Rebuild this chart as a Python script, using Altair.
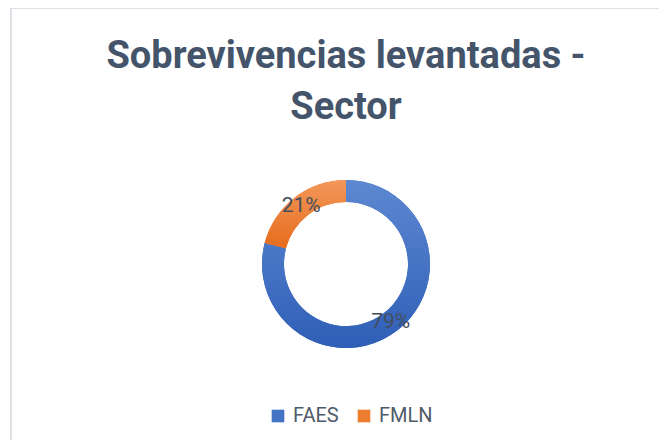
import altair as alt
import pandas as pd

sectors = ["FAES", "FMLN"]
values = [79, 21]
labels = ["79%", "21%"]
solid_colors = ["#4472C4", "#ED7D31"]
title_lines = ["Sobrevivencias levantadas -", "Sector"]

df = pd.DataFrame({"sector": sectors, "value": values, "label": labels})
one = pd.DataFrame({"k": [0]})

W, H = 648, 432
CX, CY = 335, 256

blue_grad = alt.LinearGradient(
    gradient="linear", x1=0, y1=0, x2=0, y2=1,
    stops=[alt.GradientStop(offset=0, color="#5D88D1"),
           alt.GradientStop(offset=1, color="#2F5EB7")],
)
orange_grad = alt.LinearGradient(
    gradient="linear", x1=0, y1=0, x2=0, y2=1,
    stops=[alt.GradientStop(offset=0, color="#F3975A"),
           alt.GradientStop(offset=1, color="#E66C1C")],
)

theta = alt.Theta("value:Q", stack=True)

base_arc = alt.Chart(df).mark_arc(outerRadius=84, innerRadius=62).encode(
    theta=theta,
    order=alt.Order("sector:N"),
    x=alt.value(CX), y=alt.value(CY),
    color=alt.Color(
        "sector:N",
        scale=alt.Scale(domain=sectors, range=solid_colors),
        legend=alt.Legend(
            title=None, orient="none", direction="horizontal",
            legendX=257, legendY=398,
            symbolType="square", symbolSize=160, symbolStrokeWidth=0,
            labelFont="Roboto", labelFontSize=20, labelColor="#4F5B6B",
            labelOffset=5, columnPadding=15,
        ),
    ),
)

grad_arc = alt.Chart(df).mark_arc(outerRadius=84, innerRadius=62).encode(
    theta=theta,
    order=alt.Order("sector:N"),
    x=alt.value(CX), y=alt.value(CY),
    fill=alt.condition("datum.sector == 'FAES'", alt.value(blue_grad), alt.value(orange_grad)),
)

text = alt.Chart(df).mark_text(
    radius=73, font="Roboto", fontSize=21, color="#434E5E"
).encode(
    theta=theta,
    order=alt.Order("sector:N"),
    x=alt.value(CX), y=alt.value(CY),
    text="label:N",
)

title = alt.Chart(one).mark_text(
    text=title_lines, font="Roboto", fontSize=38, fontWeight="bold",
    color="#44546A", lineHeight=51, align="center", baseline="alphabetic",
).encode(x=alt.value(CX), y=alt.value(60))

left_edge = alt.Chart(one).mark_rule(color="#DCDFE4", strokeWidth=2).encode(
    x=alt.value(0), y=alt.value(0), y2=alt.value(H)
)
top_edge = alt.Chart(one).mark_rule(color="#DCDFE4", strokeWidth=2).encode(
    x=alt.value(0), x2=alt.value(W), y=alt.value(0)
)

chart = alt.layer(left_edge, top_edge, base_arc, grad_arc, text, title).properties(
    width=W,
    height=H,
    padding={"left": 3, "top": 0, "right": 0, "bottom": 0},
    autosize=alt.AutoSizeParams(type="none"),
).configure_view(stroke=None).configure(background="white")

chart.save("out.html", embed_options={"renderer": "svg", "actions": False})
